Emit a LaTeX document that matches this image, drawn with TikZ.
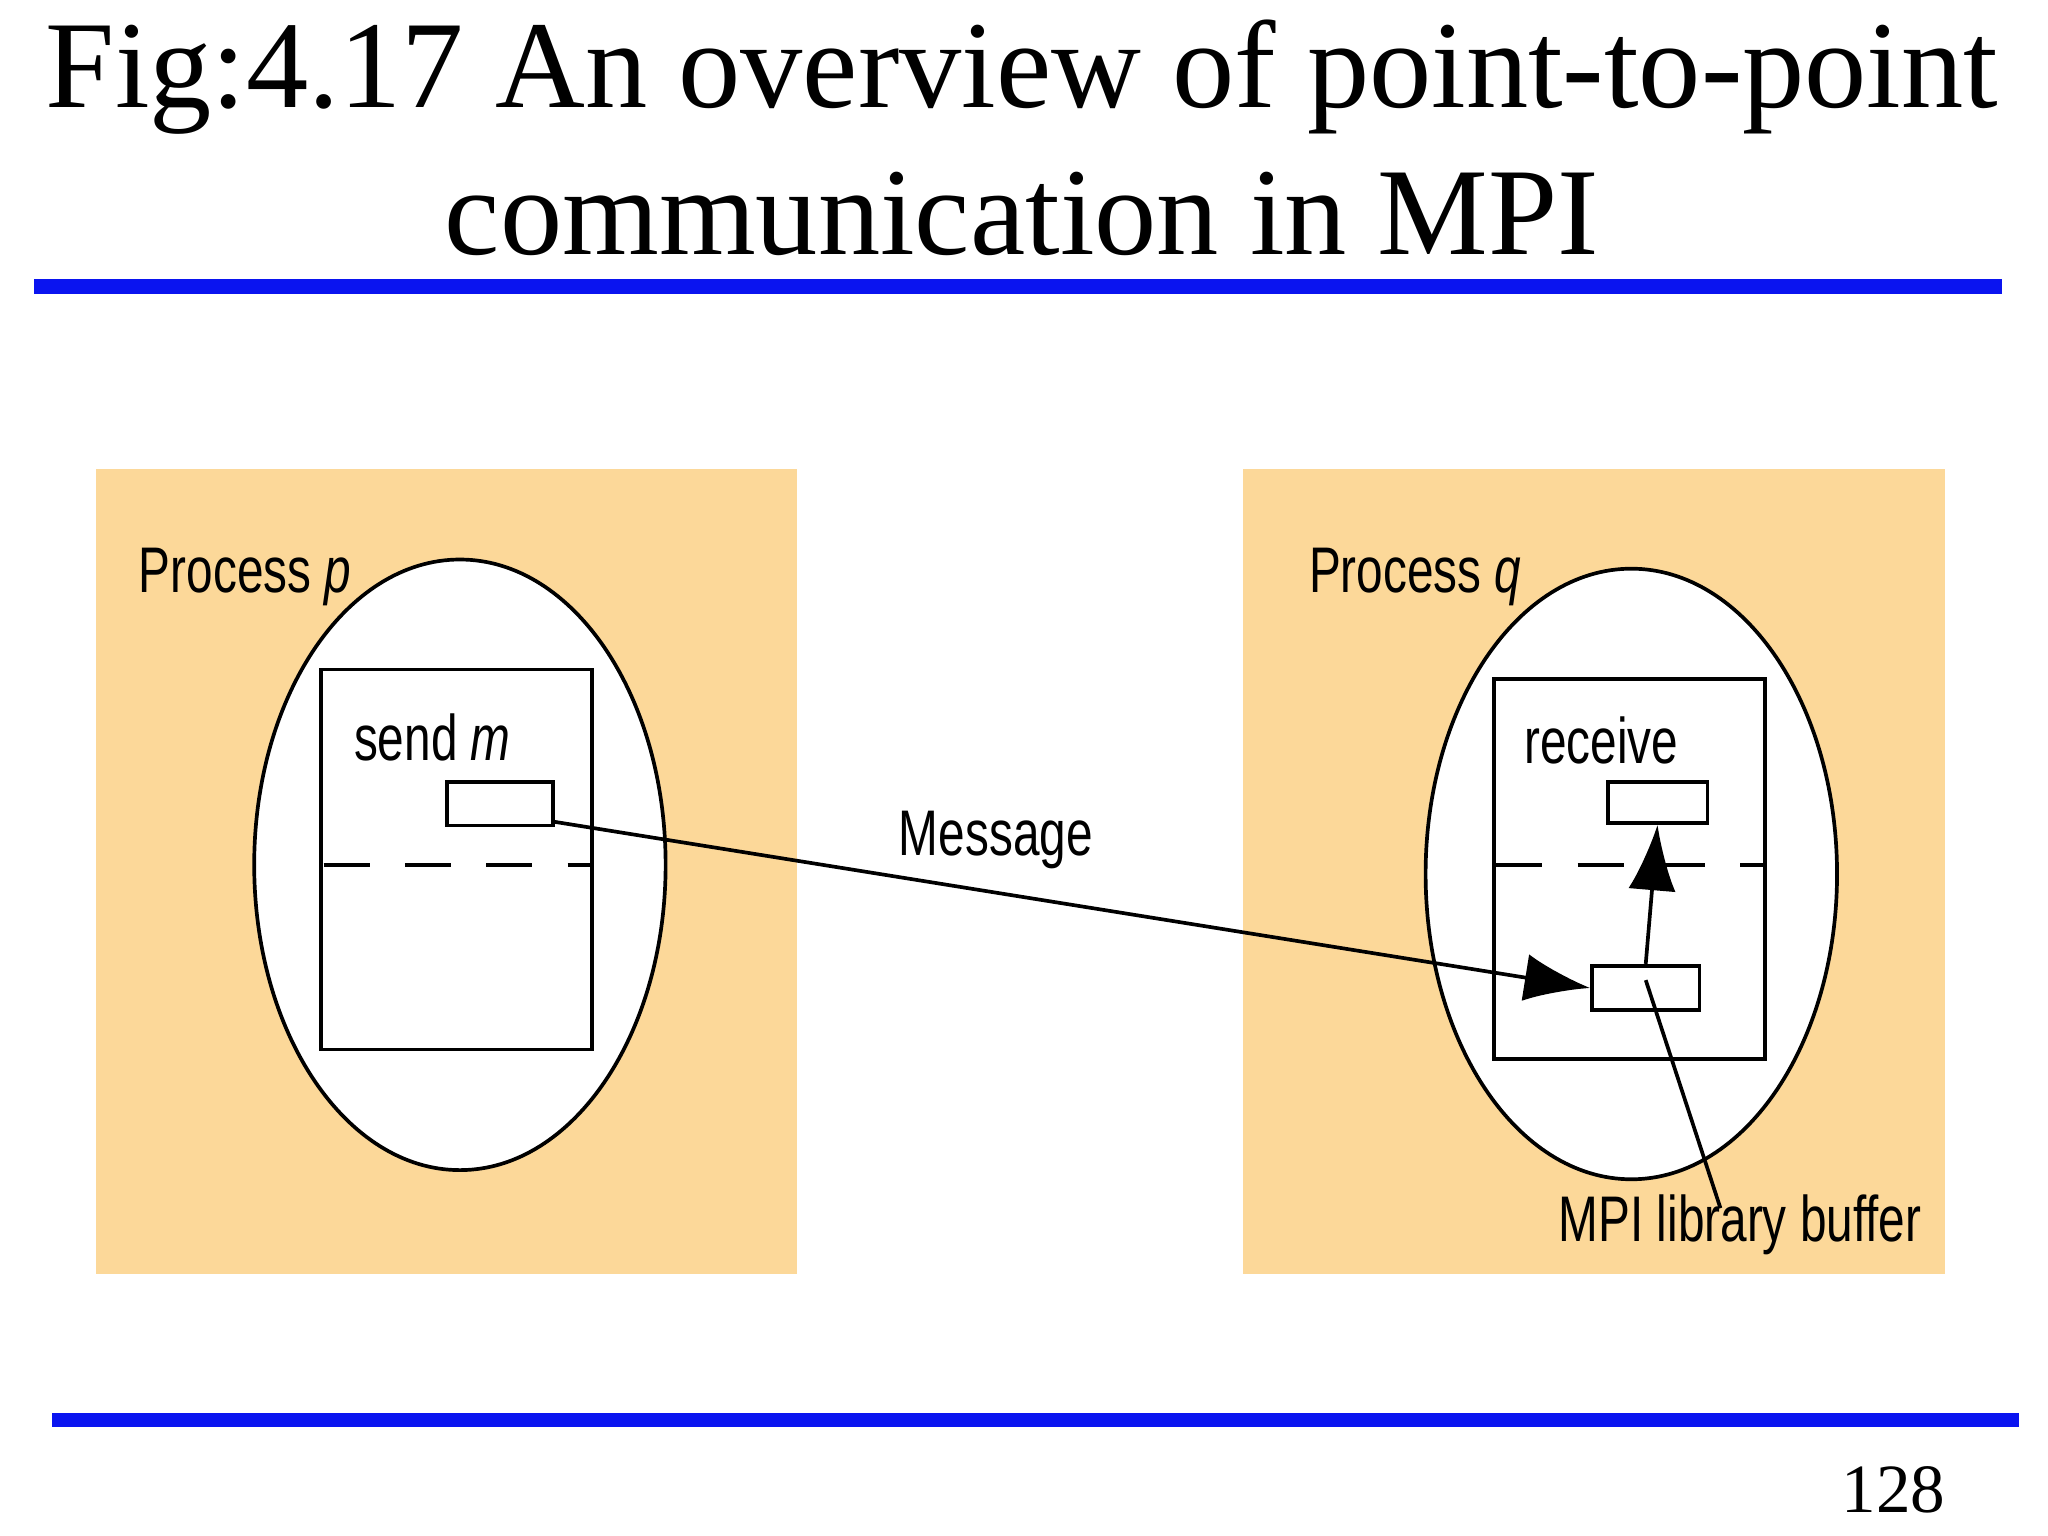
\documentclass[tikz,border=0pt]{standalone}
\usepackage{fontspec}
\setmainfont{Liberation Serif}
\newfontfamily\sff{Liberation Sans}
\usetikzlibrary{arrows.meta}
\definecolor{panel}{HTML}{FCD899}
\definecolor{rule}{HTML}{0A14F0}
\tikzset{
  lab/.style={font=\sff\fontsize{14}{16}\selectfont, inner sep=0pt, xscale=0.74, transform shape},
  box/.style={draw, line width=0.8pt, fill=white},
  dsh/.style={line width=0.8pt, dash pattern=on 0.35cm off 0.27cm, dash phase=-0.02cm},
  big/.style={-{Latex[length=0.5cm,width=0.36cm]}, line width=0.8pt}
}
\begin{document}
\begin{tikzpicture}[x=0.01cm,y=-0.01cm]
\useasboundingbox (0,0) rectangle (1563,1172);
\node[font=\fontsize{27}{32}\selectfont, align=center, inner sep=0pt] (title) at (780,105) {Fig:4.17 An overview of point-to-point\\communication in MPI};
\fill[rule] (26,213) rectangle (1528,224);
\fill[rule] (40,1078) rectangle (1541,1089);
\node[font=\fontsize{15}{18}\selectfont, inner sep=0pt] (pg) at (1445,1137) {128};
\fill[panel] (73,358) rectangle (608,972);
\fill[panel] (949,358) rectangle (1484,972);
\draw[line width=0.8pt, fill=white] (351,660) ellipse [x radius=157, y radius=233];
\draw[line width=0.8pt, fill=white] (1245,667) ellipse [x radius=157, y radius=233];
\draw[line width=0.8pt] (245,511) rectangle (452,801);
\draw[line width=0.8pt] (1140,518) rectangle (1347,808);
\draw[dsh] (245,660) -- (452,660);
\draw[dsh] (1140,660) -- (1347,660);
\node[box, minimum width=0.81cm, minimum height=0.33cm] (sm) at (381.5,613.5) {};
\node[box, minimum width=0.76cm, minimum height=0.31cm] (rt) at (1265,612.5) {};
\node[box, minimum width=0.82cm, minimum height=0.34cm] (rb) at (1256,754) {};
\coordinate (smE) at (422,627);
\draw[big] (smE) -- (rb.west);
\draw[big] (rb.north) -- (rt.south);
\node[lab] (pp) at (187,440) {Process \textit{p}};
\node[lab] (sendm) at (330,563) {send \textit{m}};
\node[lab] (msg) at (760,641) {Message};
\node[lab] (pq) at (1080,440) {Process \textit{q}};
\node[lab] (recv) at (1222,565) {receive};
\node[lab] (buf) at (1328,935) {MPI library buffer};
\coordinate (rbc) at (1256,748);
\draw[line width=0.8pt] (rbc) -- (1313,922);
\end{tikzpicture}
\end{document}
